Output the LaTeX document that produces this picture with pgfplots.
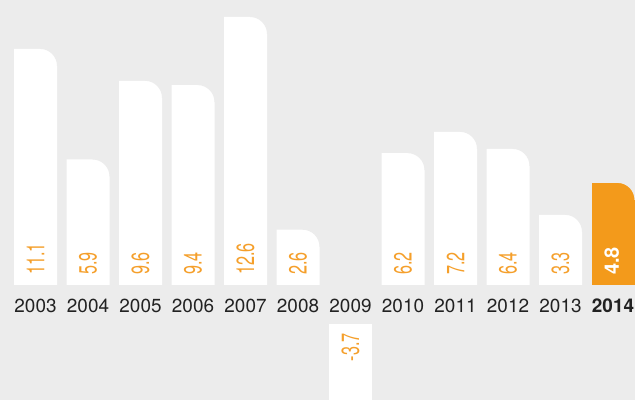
\documentclass[border=0pt]{standalone}
\usepackage{pgfplots}
\pgfplotsset{compat=1.18}
\usepackage{pgfplotstable}
\usepackage{fontspec}
\setmainfont{TeX Gyre Heros}
\newfontfamily\condfont[FakeStretch=0.65]{TeX Gyre Heros}
\definecolor{bgcol}{HTML}{ECECEC}
\definecolor{orng}{HTML}{F39A1B}
\definecolor{lblor}{HTML}{F59F2A}
\definecolor{yeartxt}{HTML}{222222}

% background-coloured patch that rounds the top-right corner of a bar
\pgfdeclareplotmark{corner}{%
  \pgfpathmoveto{\pgfpoint{22.3bp}{0.7bp}}%
  \pgfpathlineto{\pgfpoint{22.3bp}{-17bp}}%
  \pgfpathlineto{\pgfpoint{21.5bp}{-17bp}}%
  \pgfpatharc{0}{90}{17bp}%
  \pgfpathlineto{\pgfpoint{4.5bp}{0.7bp}}%
  \pgfpathclose
  \pgfusepathqfill
}

\pgfplotstableread{
x y lbl
0 11.1 11.1
1 5.9 5.9
2 9.6 9.6
3 9.4 9.4
4 12.6 12.6
5 2.6 2.6
7 6.2 6.2
8 7.2 7.2
9 6.4 6.4
10 3.3 3.3
}\whitebars
\pgfplotstableread{
x y lbl
11 4.8 4.8
}\orangebar
\pgfplotstableread{
x y lbl
6 -3.7 -3.7
}\negbar

\begin{document}
\begin{tikzpicture}
\pgfplotsset{
  base/.style={
    at={(0,0)}, anchor=south west,
    x=52.5bp, y=21.27bp,
    xmin=-0.6762, xmax=11.419,
    enlargelimits=false,
    axis line style={draw=none},
    tick style={draw=none},
    ytick=\empty,
  },
}
\begin{axis}[base,
  ymin=-5.407, ymax=13.399,
  axis background/.style={fill=bgcol},
  xtick={0,...,11},
  xticklabels={2003,2004,2005,2006,2007,2008,2009,2010,2011,2012,2013,\textbf{2014}},
  xticklabel style={anchor=center, yshift=94.5bp, inner sep=0pt,
    font=\fontsize{19}{19}\selectfont, text=yeartxt},
]
\addplot[ybar, bar shift=0pt, bar width=43bp, fill=white, draw=none,
  mark=corner, mark options={fill=bgcol, draw=none}]
  table[x=x, y=y] {\whitebars};
\addplot[ybar, bar shift=0pt, bar width=43bp, fill=orng, draw=none,
  mark=corner, mark options={fill=bgcol, draw=none}]
  table[x=x, y=y] {\orangebar};
\addplot[draw=none, nodes near coords, point meta=explicit symbolic,
  nodes near coords style={rotate=90, anchor=west, inner sep=0pt,
    font=\condfont\fontsize{25}{25}\selectfont, text=lblor}]
  table[x=x, y expr=0.47, meta=lbl] {\whitebars};
\addplot[draw=none, nodes near coords, point meta=explicit symbolic,
  nodes near coords style={rotate=90, anchor=west, inner sep=0pt,
    font=\fontsize{20}{20}\selectfont\bfseries, text=white}]
  table[x expr=\thisrow{x}-0.025, y expr=0.47, meta=lbl] {\orangebar};
\end{axis}
\begin{axis}[base,
  ymin=-3.573, ymax=15.233,
  xtick=\empty,
]
\addplot[ybar, bar shift=0pt, bar width=43bp, fill=white, draw=none]
  table[x=x, y=y] {\negbar};
\addplot[draw=none, nodes near coords, point meta=explicit symbolic,
  nodes near coords style={rotate=90, anchor=east, inner sep=0pt,
    font=\condfont\fontsize{25}{25}\selectfont, text=lblor}]
  table[x=x, y expr=-0.42, meta=lbl] {\negbar};
\end{axis}
\pgfresetboundingbox
\useasboundingbox (0,0) rectangle (635bp,400bp);
\end{tikzpicture}
\end{document}
